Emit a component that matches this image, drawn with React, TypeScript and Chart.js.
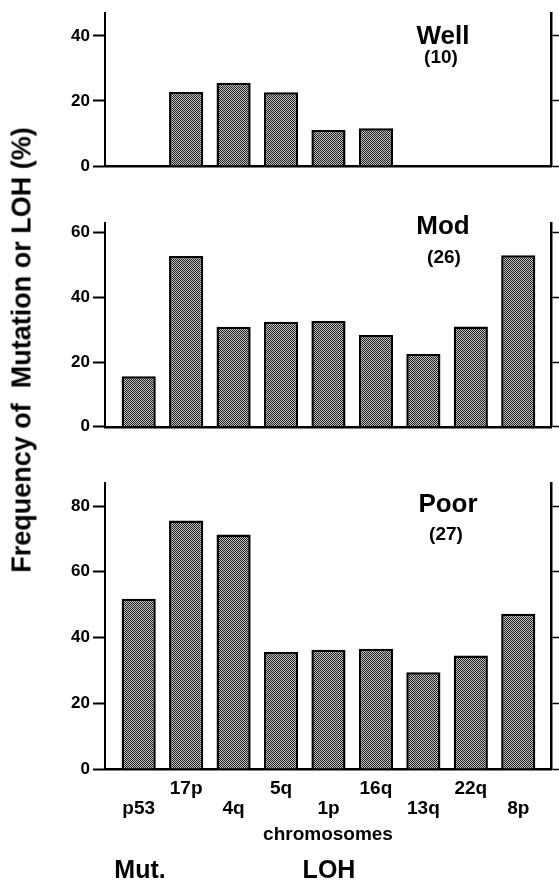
import React, { useEffect, useRef } from 'react';
import { Chart, registerables } from 'chart.js';

Chart.register(...registerables);

const categories = ['p53', '17p', '4q', '5q', '1p', '16q', '13q', '22q', '8p'];
const wellValues = [0, 22.8, 25.6, 22.7, 11.1, 11.6, 0, 0, 0];
const modValues = [15.6, 52.8, 30.9, 32.5, 32.7, 28.4, 22.5, 31.0, 53.0];
const poorValues = [51.8, 75.6, 71.3, 35.6, 36.3, 36.6, 29.4, 34.5, 47.2];
const wellTicks = [0, 20, 40];
const modTicks = [0, 20, 40, 60];
const poorTicks = [0, 20, 40, 60, 80];
const wellMax = 47;
const modMax = 63;
const poorMax = 87;
const panelNames = ['Well', 'Mod', 'Poor'];
const panelCounts = ['(10)', '(26)', '(27)'];
const yTitle = 'Frequency of  Mutation or LOH (%)';
const xTitle = 'chromosomes';
const groupLabels = ['Mut.', 'LOH'];

const FONT = '"Liberation Sans", Arial, Helvetica, sans-serif';

function makePattern(): CanvasPattern | string {
  const c = document.createElement('canvas');
  c.width = 2;
  c.height = 2;
  const g = c.getContext('2d');
  if (!g) return '#888';
  g.fillStyle = '#c4c4c4';
  g.fillRect(0, 0, 2, 2);
  g.fillStyle = '#1c1c1c';
  g.fillRect(0, 0, 1, 1);
  g.fillRect(1, 1, 1, 1);
  return g.createPattern(c, 'repeat') || '#888';
}

type PanelLayout = { top: number; height: number; padTop: number; xHeight: number };

function Panel(props: {
  values: number[];
  ticks: number[];
  max: number;
  layout: PanelLayout;
  showLabels: boolean;
}) {
  const { values, ticks, max, layout, showLabels } = props;
  const ref = useRef<HTMLCanvasElement>(null);
  useEffect(() => {
    const pattern = makePattern();
    const setTicks = (s: any) => {
      s.ticks = ticks.map((v) => ({ value: v }));
    };
    const chart = new Chart(ref.current as HTMLCanvasElement, {
      type: 'bar',
      data: {
        datasets: [
          {
            data: values.map((v, i) => ({ x: i, y: v })) as any,
            backgroundColor: pattern as any,
            borderColor: '#000',
            borderWidth: 2.5,
            barPercentage: 0.72,
            categoryPercentage: 1,
          },
        ],
      },
      options: {
        animation: false,
        responsive: false,
        devicePixelRatio: 1,
        layout: { padding: { top: layout.padTop, left: 0, right: 0, bottom: 0 } },
        plugins: {
          legend: { display: false },
          tooltip: { enabled: false },
          title: { display: false },
        },
        scales: {
          x: {
            type: 'linear',
            offset: false,
            min: -0.71,
            max: 8.69,
            afterBuildTicks: (s: any) => {
              s.ticks = categories.map((_, i) => ({ value: i }));
            },
            afterFit: (s: any) => {
              s.height = layout.xHeight;
            },
            grid: { display: false, drawTicks: false, offset: false },
            border: { display: true, color: '#000', width: 2.5 },
            ticks: {
              display: showLabels,
              autoSkip: false,
              maxRotation: 0,
              minRotation: 0,
              padding: 10,
              color: '#000',
              font: { family: FONT, weight: 'bold', size: 19, lineHeight: 1.05 },
              callback: (v: any) => {
                const i = Math.round(Number(v));
                const name = categories[i] ?? '';
                return i % 2 === 1 ? [name, ''] : ['', name];
              },
            },
            title: {
              display: showLabels,
              text: xTitle,
              color: '#000',
              font: { family: FONT, weight: 'bold', size: 19 },
              padding: { top: 0, bottom: 37 },
            },
          },
          y: {
            position: 'left',
            min: 0,
            max,
            afterBuildTicks: setTicks,
            afterFit: (s: any) => {
              s.width = 105;
            },
            grid: {
              drawOnChartArea: false,
              drawTicks: true,
              tickLength: 12,
              tickWidth: 2,
              color: '#000',
            },
            border: { display: true, color: '#000', width: 2 },
            ticks: {
              padding: 3,
              color: '#000',
              font: { family: FONT, weight: 'bold', size: 17 },
            },
          },
          y2: {
            position: 'right',
            min: 0,
            max,
            afterBuildTicks: setTicks,
            afterFit: (s: any) => {
              s.width = 8;
            },
            grid: {
              drawOnChartArea: false,
              drawTicks: true,
              tickLength: 8,
              tickWidth: 1.5,
              color: '#000',
            },
            border: { display: true, color: '#000', width: 2.5 },
            ticks: { display: false },
          },
        } as any,
      },
    });
    return () => chart.destroy();
  }, []);
  return (
    <canvas
      ref={ref}
      width={559}
      height={layout.height}
      style={{ position: 'absolute', left: 0, top: layout.top, width: 559, height: layout.height, display: 'block' }}
    />
  );
}

const textBase: React.CSSProperties = {
  position: 'absolute',
  fontFamily: FONT,
  fontWeight: 'bold',
  color: '#000',
  whiteSpace: 'pre',
  lineHeight: 1,
  transform: 'translateX(-50%)',
};

export default function App() {
  const layouts: PanelLayout[] = [
    { top: 0, height: 180, padTop: 13, xHeight: 14 },
    { top: 200, height: 240, padTop: 23, xHeight: 11 },
    { top: 460, height: 423, padTop: 23, xHeight: 114 },
  ];
  const nameTops = [22, 212, 490];
  const countTops = [47, 247, 524];
  const nameX = [443, 443, 448];
  const countX = [441, 444, 446];
  return (
    <div style={{ position: 'absolute', left: 0, top: 0, width: 559, height: 883, background: '#fff', overflow: 'hidden' }}>
      <Panel values={wellValues} ticks={wellTicks} max={wellMax} layout={layouts[0]} showLabels={false} />
      <Panel values={modValues} ticks={modTicks} max={modMax} layout={layouts[1]} showLabels={false} />
      <Panel values={poorValues} ticks={poorTicks} max={poorMax} layout={layouts[2]} showLabels={true} />
      {panelNames.map((n, i) => (
        <div key={'n' + i} style={{ ...textBase, left: nameX[i], top: nameTops[i], fontSize: 26 }}>
          {n}
        </div>
      ))}
      {panelCounts.map((n, i) => (
        <div key={'c' + i} style={{ ...textBase, left: countX[i], top: countTops[i], fontSize: 19 }}>
          {n}
        </div>
      ))}
      <div style={{ ...textBase, left: 140, top: 857, fontSize: 25 }}>{groupLabels[0]}</div>
      <div style={{ ...textBase, left: 329, top: 857, fontSize: 25 }}>{groupLabels[1]}</div>
      <div
        style={{
          ...textBase,
          left: 22,
          top: 350,
          fontSize: 27,
          transform: 'translate(-50%, -50%) rotate(-90deg)',
        }}
      >
        {yTitle}
      </div>
    </div>
  );
}
